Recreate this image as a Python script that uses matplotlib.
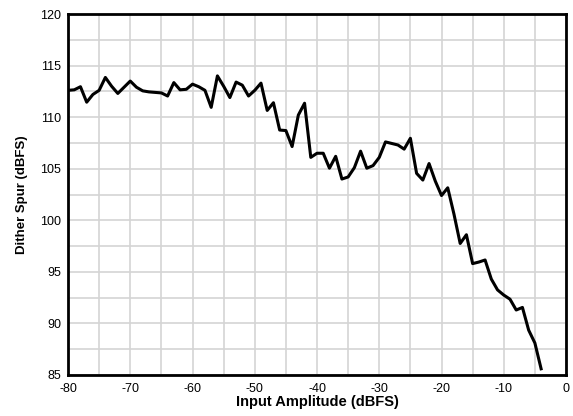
#!/usr/bin/env python3
"""
dither spur vs input amplitude
"""

import numpy as np
import matplotlib
matplotlib.use('Agg')
import matplotlib.pyplot as plt
from matplotlib.ticker import MultipleLocator

plt.rcParams['font.family'] = ['Liberation Sans', 'DejaVu Sans']
plt.rcParams['axes.unicode_minus'] = False

# input amplitude, 1 dB steps
input_amplitude = list(range(-80, -3))
# dither spur level
dither_spur = [
    112.6, 112.65, 112.95, 111.45, 112.2, 112.6, 113.85, 113.0, 112.3, 112.9,
    113.5, 112.9, 112.55, 112.45, 112.4, 112.35, 112.05, 113.35, 112.65, 112.7,
    113.2, 112.95, 112.6, 110.95, 114.0, 113.0, 111.9, 113.4, 113.1, 112.05,
    112.6, 113.3, 110.65, 111.4, 108.75, 108.7, 107.15, 110.2, 111.35, 106.1,
    106.5, 106.5, 105.05, 106.2, 104.0, 104.2, 105.1, 106.7, 105.05, 105.3,
    106.1, 107.6, 107.45, 107.3, 106.9, 107.95, 104.55, 103.9, 105.5, 103.8,
    102.4, 103.15, 100.6, 97.75, 98.6, 95.8, 95.95, 96.15, 94.3, 93.25,
    92.75, 92.35, 91.3, 91.55, 89.35, 88.1, 85.6,
]

fig = plt.figure(figsize=(5.73, 4.16), dpi=100)
ax = fig.add_axes([0.1187, 0.0986, 0.8691, 0.8677])

ax.plot(np.array(input_amplitude), np.array(dither_spur), color='black',
        linewidth=2.2, zorder=3)

ax.set_xlim(-80, 0)
ax.set_ylim(85, 120)
ax.xaxis.set_major_locator(MultipleLocator(10))
ax.xaxis.set_minor_locator(MultipleLocator(5))
ax.yaxis.set_major_locator(MultipleLocator(5))
ax.yaxis.set_minor_locator(MultipleLocator(2.5))
ax.grid(which='both', color='#d4d4d4', linewidth=1.2, zorder=0)
ax.set_axisbelow(True)
ax.tick_params(which='both', length=0, labelsize=9)
ax.tick_params(axis='x', pad=6)
ax.tick_params(axis='y', pad=5)

for spine in ax.spines.values():
    spine.set_linewidth(2.0)
    spine.set_color('black')

ax.set_xlabel('Input Amplitude (dBFS)', fontsize=10.5, fontweight='bold',
              labelpad=0)
ax.set_ylabel('Dither Spur (dBFS)', fontsize=9.5, fontweight='bold',
              labelpad=9)

fig.savefig('out.png', dpi=100)
plt.close(fig)
